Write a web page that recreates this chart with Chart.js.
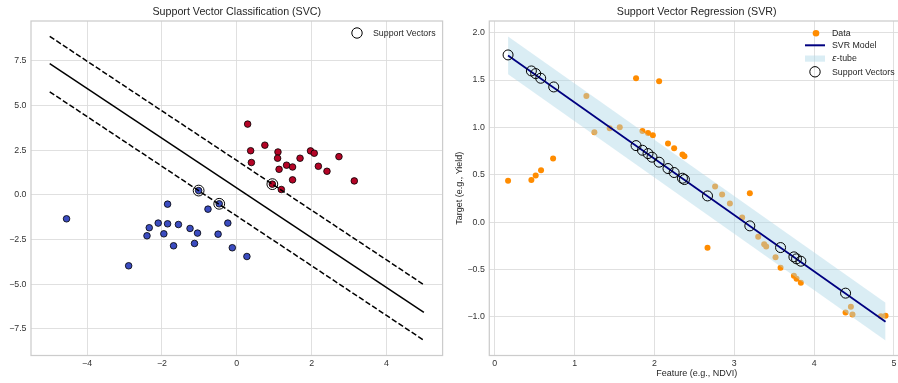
<!DOCTYPE html>
<html><head><meta charset="utf-8">
<script src="https://cdn.jsdelivr.net/npm/chart.js@4.4.1/dist/chart.umd.min.js"></script>
<style>
html,body{margin:0;padding:0;background:#fff;overflow:hidden;width:898px;height:383px;}
#wrapL{position:absolute;left:0;top:0;width:449px;height:383px;}
#wrapR{position:absolute;left:450px;top:0;width:460px;height:383px;}
</style></head><body>
<div id="wrapL"><canvas id="svc"></canvas></div>
<div id="wrapR"><canvas id="svr"></canvas></div>
<script>
// ---------- SVC data ----------
const svcBlueX = [-4.55,-1.02,-0.47,-1.85,-0.77,-2.10,-1.85,-1.56,-2.34,-1.25,-0.24,-2.40,-1.95,-1.05,-0.50,-1.69,-1.13,-0.12,0.27,-2.89];
const svcBlueY = [-1.34,0.24,-0.50,-0.52,-0.80,-1.58,-1.62,-1.66,-1.84,-1.88,-1.58,-2.29,-2.18,-2.14,-2.20,-2.85,-2.72,-2.96,-3.45,-3.97];
const svcRedX = [0.29,0.75,0.37,1.10,1.09,0.39,1.97,2.07,1.69,2.73,1.33,1.49,1.13,2.18,2.41,1.49,3.14,0.95,1.19];
const svcRedY = [3.96,2.78,2.47,2.40,2.05,1.81,2.46,2.33,2.05,2.14,1.66,1.56,1.43,1.60,1.32,0.84,0.78,0.60,0.30];
const svcSvX = [-1.02,-0.47,0.95];
const svcSvY = [0.24,-0.50,0.60];
const svcLineX = [-5, 5];
const svcDecisionY = [7.35, -6.58];
const svcUpperY = [8.87, -5.03];
const svcLowerY = [5.77, -8.14];
const svcXTicks = [-4,-2,0,2,4];
const svcYTicks = [-7.5,-5,-2.5,0,2.5,5,7.5];

// ---------- SVR data ----------
const svrDataX = [0.167,0.459,0.513,0.58,0.731,1.148,1.248,1.44,1.566,1.77,2.059,1.85,1.92,1.98,2.17,2.247,2.351,2.376,2.76,2.848,3.195,2.945,3.099,2.665,3.30,3.375,3.40,3.517,3.58,3.747,3.78,3.834,4.394,4.461,4.481,4.837,4.895];
const svrDataY = [0.436,0.446,0.492,0.548,0.671,1.332,0.949,0.99,1.002,1.519,1.487,0.963,0.942,0.918,0.829,0.78,0.713,0.696,0.376,0.291,0.306,0.196,0.049,-0.271,-0.155,-0.232,-0.257,-0.369,-0.482,-0.566,-0.598,-0.640,-0.953,-0.893,-0.974,-0.992,-0.988];
const svrLineX = [0.167, 4.895];
const svrLineY = [1.76, -1.05];
const svrEpsilon = 0.2;
const svrSvX = [0.167,0.459,0.513,0.576,0.739,1.77,1.85,1.92,1.97,2.059,2.17,2.247,2.351,2.376,2.665,3.195,3.58,3.747,3.78,3.834,4.394];
const svrSvY = [1.765,1.596,1.568,1.519,1.427,0.808,0.759,0.724,0.686,0.633,0.566,0.524,0.464,0.45,0.277,-0.039,-0.268,-0.366,-0.387,-0.412,-0.749];
const svrXTicks = [0,1,2,3,4,5];
const svrYTicks = [-1,-0.5,0,0.5,1,1.5,2];

// ---------- helpers ----------
const pts = (X, Y) => X.map((x, i) => ({x: x, y: Y[i]}));
const minus = s => String(s).replace('-', '\u2212');
const FONT = '"Liberation Sans", Arial, "DejaVu Sans", sans-serif';
const TEXT = '#262626';
const TICK = '#333333';
const GRID = '#dcdcdc';
Chart.defaults.font.family = FONT;

const framePlugin = {
  id: 'frame',
  beforeDatasetsDraw(chart) {
    const {ctx, chartArea: a} = chart;
    ctx.save();
    ctx.strokeStyle = '#cccccc';
    ctx.lineWidth = 1.25;
    ctx.strokeRect(a.left, a.top, a.right - a.left, a.bottom - a.top);
    ctx.restore();
  }
};

function scaleX(min, max, ticks, fmt, title) {
  const o = {
    type: 'linear', min: min, max: max,
    afterBuildTicks: s => { s.ticks = ticks.map(v => ({value: v})); },
    afterFit: s => { s.height = 27.5; },
    ticks: {callback: v => minus(fmt(v)), padding: 2.5, color: TICK, font: {size: 8.8}, maxRotation: 0, autoSkip: false},
    grid: {color: GRID, lineWidth: 0.9, drawTicks: false},
    border: {display: false}
  };
  if (title) o.title = {display: true, text: title, color: TEXT, font: {size: 9}, padding: {top: 0, bottom: 3.6}};
  return o;
}
function scaleY(min, max, ticks, fmt, width, title) {
  const o = {
    type: 'linear', min: min, max: max,
    afterBuildTicks: s => { s.ticks = ticks.map(v => ({value: v})); },
    afterFit: s => { s.width = width; },
    ticks: {callback: v => minus(fmt(v)), padding: 4.5, color: TICK, font: {size: 8.8}, autoSkip: false},
    grid: {color: GRID, lineWidth: 0.9, drawTicks: false},
    border: {display: false}
  };
  if (title) o.title = {display: true, text: title, color: TEXT, font: {size: 9}, padding: {top: 3.9, bottom: 0}};
  return o;
}
const titleOpts = t => ({display: true, fullSize: false, text: t, color: TEXT, font: {size: 10.7, weight: 'normal'}, padding: {top: 5.5, bottom: 2.66}});

// ---------- SVC chart ----------
const svcLegend = {
  id: 'svcLegend',
  afterDraw(chart) {
    const ctx = chart.ctx;
    ctx.save();
    ctx.strokeStyle = '#000'; ctx.lineWidth = 1;
    ctx.beginPath(); ctx.arc(357, 33, 5.2, 0, Math.PI * 2); ctx.stroke();
    ctx.fillStyle = TEXT; ctx.font = '8.8px ' + FONT; ctx.textBaseline = 'middle';
    ctx.fillText('Support Vectors', 373, 33.5);
    ctx.restore();
  }
};

new Chart(document.getElementById('svc'), {
  type: 'scatter',
  data: {
    datasets: [
      {type: 'line', data: pts(svcLineX, svcDecisionY), borderColor: '#000', borderWidth: 1.5, pointRadius: 0, fill: false, order: 0},
      {type: 'line', data: pts(svcLineX, svcUpperY), borderColor: '#000', borderWidth: 1.5, borderDash: [5.5, 2.4], pointRadius: 0, fill: false, order: 0},
      {type: 'line', data: pts(svcLineX, svcLowerY), borderColor: '#000', borderWidth: 1.5, borderDash: [5.5, 2.4], pointRadius: 0, fill: false, order: 0},
      {label: 'Class 0', data: pts(svcBlueX, svcBlueY), backgroundColor: '#3b4cc0', borderColor: '#000', borderWidth: 0.8, pointRadius: 3.3, order: 2},
      {label: 'Class 1', data: pts(svcRedX, svcRedY), backgroundColor: '#b40426', borderColor: '#000', borderWidth: 0.8, pointRadius: 3.3, order: 2},
      {label: 'Support Vectors', data: pts(svcSvX, svcSvY), backgroundColor: 'rgba(0,0,0,0)', borderColor: '#000', borderWidth: 1, pointRadius: 5.4, order: 1}
    ]
  },
  options: {
    responsive: true, maintainAspectRatio: false, animation: false, devicePixelRatio: 1, events: [],
    layout: {padding: {left: 0, right: 4, top: 0, bottom: 0}},
    plugins: {legend: {display: false}, tooltip: {enabled: false}, title: titleOpts('Support Vector Classification (SVC)')},
    scales: {
      x: scaleX(-5.5, 5.5, svcXTicks, v => String(v)),
      y: scaleY(-8.99, 9.73, svcYTicks, v => v.toFixed(1), 31)
    }
  },
  plugins: [framePlugin, svcLegend]
});

// ---------- SVR chart ----------
const svrUpperY = svrLineY.map(v => v + svrEpsilon);
const svrLowerY = svrLineY.map(v => v - svrEpsilon);
const TUBE = 'rgba(173,216,230,0.45)';
const svrLegend = {
  id: 'svrLegend',
  afterDraw(chart) {
    const ctx = chart.ctx;
    ctx.save();
    ctx.fillStyle = '#ff8c00';
    ctx.beginPath(); ctx.arc(366, 33.3, 3.3, 0, Math.PI * 2); ctx.fill();
    ctx.strokeStyle = '#000080'; ctx.lineWidth = 2;
    ctx.beginPath(); ctx.moveTo(355, 45.3); ctx.lineTo(375, 45.3); ctx.stroke();
    ctx.fillStyle = TUBE; ctx.fillRect(355, 55.5, 20, 6.2);
    ctx.strokeStyle = '#000'; ctx.lineWidth = 1;
    ctx.beginPath(); ctx.arc(365, 71.8, 5.2, 0, Math.PI * 2); ctx.stroke();
    ctx.fillStyle = TEXT; ctx.textBaseline = 'middle';
    ctx.font = '8.8px ' + FONT;
    ctx.fillText('Data', 382, 33.5);
    ctx.fillText('SVR Model', 382, 46);
    ctx.font = 'italic 8.8px "DejaVu Sans", sans-serif';
    ctx.fillText('\u03B5', 382, 59);
    const w = ctx.measureText('\u03B5').width;
    ctx.font = '8.8px ' + FONT;
    ctx.fillText('-tube', 382 + w, 59);
    ctx.fillText('Support Vectors', 382, 72.3);
    ctx.restore();
  }
};

new Chart(document.getElementById('svr'), {
  type: 'scatter',
  data: {
    datasets: [
      {label: 'Data', data: pts(svrDataX, svrDataY), backgroundColor: '#ff8c00', borderWidth: 0, borderColor: 'rgba(0,0,0,0)', pointRadius: 3, order: 3},
      {label: 'SVR Model', type: 'line', data: pts(svrLineX, svrLineY), borderColor: '#000080', borderWidth: 1.8, pointRadius: 0, fill: false, order: 1},
      {label: '\u03B5-tube', type: 'line', data: pts(svrLineX, svrUpperY), borderColor: 'rgba(0,0,0,0)', borderWidth: 0, pointRadius: 0, backgroundColor: TUBE, fill: '+1', order: 2},
      {label: 'tube lower', type: 'line', data: pts(svrLineX, svrLowerY), borderColor: 'rgba(0,0,0,0)', borderWidth: 0, pointRadius: 0, fill: false, order: 2},
      {label: 'Support Vectors', data: pts(svrSvX, svrSvY), backgroundColor: 'rgba(0,0,0,0)', borderColor: '#000', borderWidth: 1, pointRadius: 5, order: 0}
    ]
  },
  options: {
    responsive: true, maintainAspectRatio: false, animation: false, devicePixelRatio: 1, events: [],
    layout: {padding: {left: 0, right: 6, top: 0, bottom: 0}},
    plugins: {legend: {display: false}, tooltip: {enabled: false}, title: titleOpts('Support Vector Regression (SVR)')},
    scales: {
      x: scaleX(-0.068, 5.126, svrXTicks, v => String(v), 'Feature (e.g., NDVI)'),
      y: scaleY(-1.407, 2.123, svrYTicks, v => v.toFixed(1), 39.3, 'Target (e.g., Yield)')
    }
  },
  plugins: [framePlugin, svrLegend]
});
</script>
</body></html>
